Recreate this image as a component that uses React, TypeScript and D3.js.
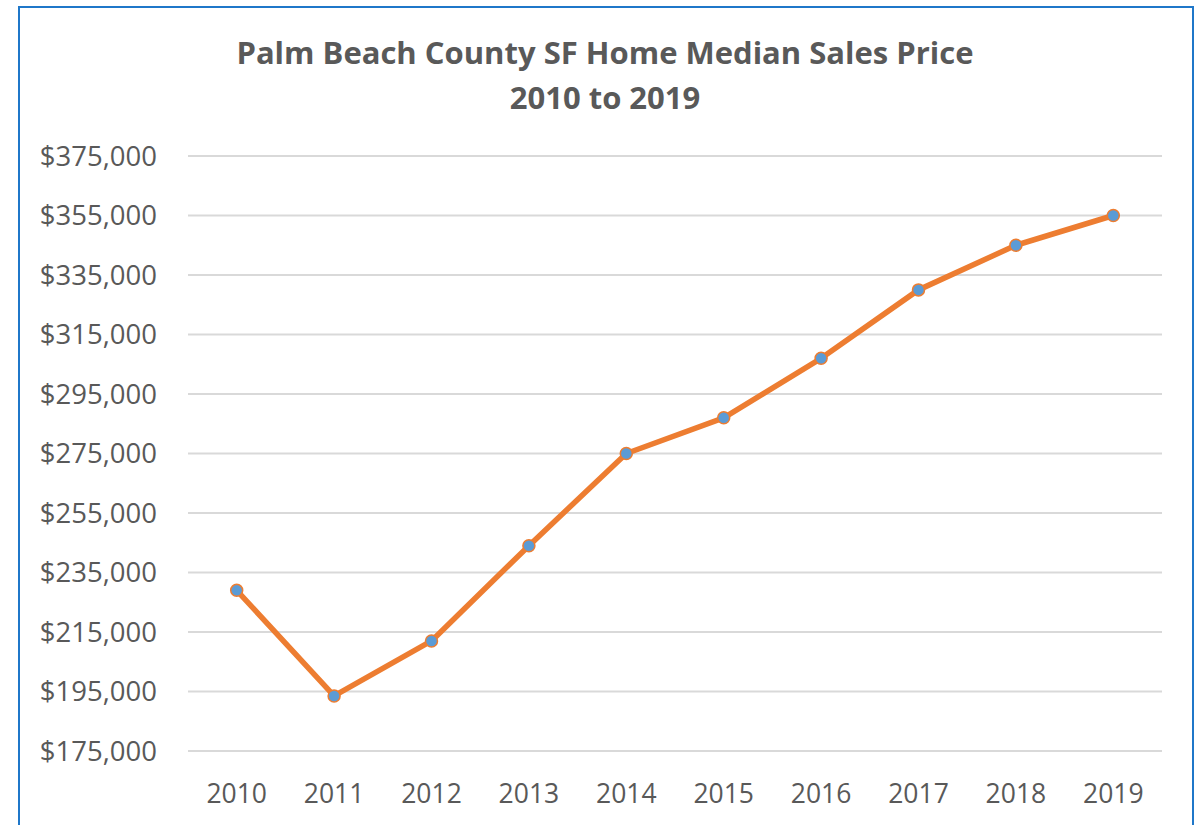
import React from "react";
import * as d3 from "d3";

const years: string[] = ["2010", "2011", "2012", "2013", "2014", "2015", "2016", "2017", "2018", "2019"];
const prices: number[] = [229000, 193500, 212000, 244000, 275000, 287000, 307000, 330000, 345000, 355000];
const yTicks: number[] = [175000, 195000, 215000, 235000, 255000, 275000, 295000, 315000, 335000, 355000, 375000];
const titleLines: string[] = ["Palm Beach County SF Home Median Sales Price", "2010 to 2019"];

const W = 1201;
const H = 825;
const FONT = "'Open Sans', Lato, sans-serif";

export default function App() {
  const x = d3.scaleBand<string>().domain(years).range([188, 1162]);
  const y = d3.scaleLinear().domain([175000, 375000]).range([751, 156]);
  const fmt = (v: number) => "$" + d3.format(",")(v);
  const line = d3
    .line<number>()
    .x((_, i) => (x(years[i]) as number) + x.bandwidth() / 2)
    .y((d) => y(d));

  return (
    <svg
      width={W}
      height={H}
      style={{ position: "absolute", left: 0, top: 0, background: "#fff" }}
    >
      <rect x={0} y={0} width={W} height={H} fill="#fff" />
      <rect x={19} y={7} width={1174} height={840} fill="#fff" stroke="#1F77C9" strokeWidth={2} />
      {titleLines.map((t, i) => (
        <text
          key={i}
          x={605}
          y={64 + i * 45}
          textAnchor="middle"
          fontFamily={FONT}
          fontWeight="bold"
          fontSize={31}
          fill="#595959"
        >
          {t}
        </text>
      ))}
      {yTicks.map((t) => (
        <g key={t}>
          <line x1={188} x2={1162} y1={y(t)} y2={y(t)} stroke="#D9D9D9" strokeWidth={2} />
          <text
            x={157}
            y={y(t)}
            dy="0.36em"
            textAnchor="end"
            fontFamily={FONT}
            fontSize={27.5}
            fill="#595959"
          >
            {fmt(t)}
          </text>
        </g>
      ))}
      {years.map((yr) => (
        <text
          key={yr}
          x={(x(yr) as number) + x.bandwidth() / 2}
          y={793}
          dy="0.36em"
          textAnchor="middle"
          fontFamily={FONT}
          fontSize={26.5}
          fill="#595959"
        >
          {yr}
        </text>
      ))}
      <path d={line(prices) || ""} fill="none" stroke="#ED7D31" strokeWidth={5.5} strokeLinejoin="round" strokeLinecap="round" />
      {prices.map((p, i) => (
        <circle
          key={i}
          cx={(x(years[i]) as number) + x.bandwidth() / 2}
          cy={y(p)}
          r={6}
          fill="#5B9BD5"
          stroke="#ED7D31"
          strokeWidth={1.5}
        />
      ))}
    </svg>
  );
}
